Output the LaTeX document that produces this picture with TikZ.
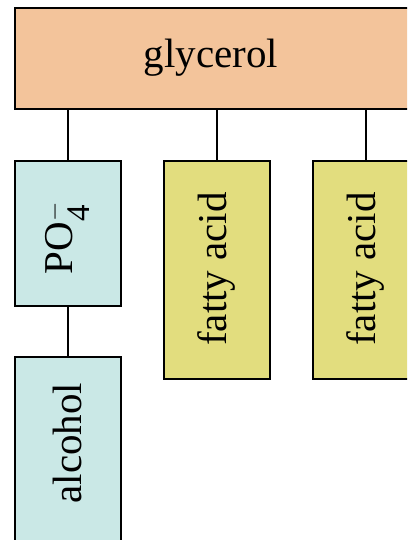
\documentclass[tikz,border=0pt]{standalone}
\usepackage{amsmath}
\usepackage{fontspec}
\setmainfont{Liberation Serif}
\usepackage{graphicx}
\usepackage{tikz}
\usetikzlibrary{positioning,calc}
\definecolor{glyc}{RGB}{243,196,155}
\definecolor{phos}{RGB}{202,232,230}
\definecolor{fatc}{RGB}{226,221,126}
\newcommand{\sml}[1]{\text{\fontsize{33}{33}\selectfont #1}}

\begin{document}
\begin{tikzpicture}[x=1pt,y=-1pt,font=\fontsize{41}{41}\selectfont,
  bx/.style={draw,line width=2pt,inner sep=0pt,anchor=north west},
  ln/.style={line width=2pt}]
\clip (0,0) rectangle (407,540);
\fill[white] (0,0) rectangle (407,540);
\node[bx,fill=glyc,minimum width=395,minimum height=101] (gly) at (14,7) {};
\node at (211,58) {glycerol};
\node[bx,fill=phos,minimum width=106,minimum height=145] (po) at (14,160) {};
\node at (67,238) {\rotatebox{90}{PO$_{\sml{4}}^{\sml{$-$}}$}};
\node[bx,fill=phos,minimum width=106,minimum height=200] (alc) at (14,356) {};
\node at (67,443) {\rotatebox{90}{alcohol}};
\node[bx,fill=fatc,minimum width=106,minimum height=218] (fa1) at (163,160) {};
\node at (216,269) {\rotatebox{90}{fatty acid}};
\node[bx,fill=fatc,minimum width=106,minimum height=218] (fa2) at (312,160) {};
\node at (365,269) {\rotatebox{90}{fatty acid}};
% links
\draw[ln] (gly.south -| po.north) -- (po.north);
\draw[ln] (gly.south -| fa1.north) -- (fa1.north);
\draw[ln] (gly.south -| fa2.north) -- (fa2.north);
\draw[ln] (po.south) -- (alc.north);
\end{tikzpicture}
\end{document}
